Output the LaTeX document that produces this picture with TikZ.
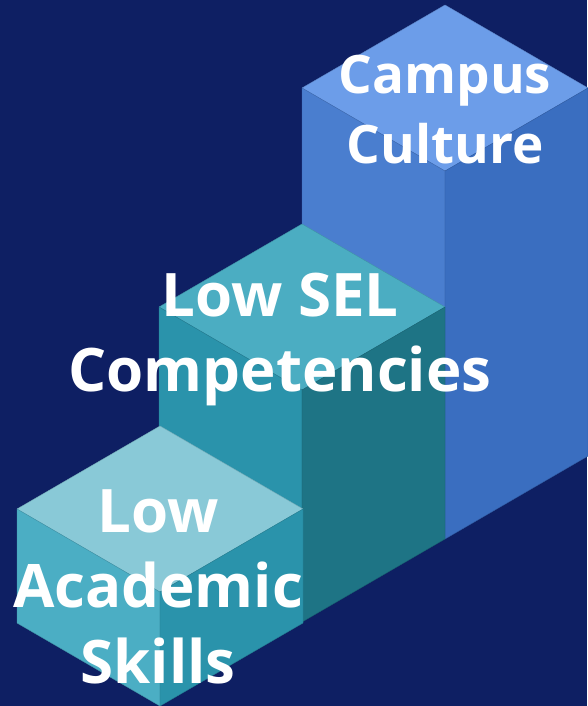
\documentclass[tikz,border=0pt]{standalone}
\usepackage{fontspec}
\setmainfont{Open Sans}
\definecolor{bg}{HTML}{0E1F63}
\definecolor{btop}{HTML}{6C9DE9}
\definecolor{bleft}{HTML}{4A7ECF}
\definecolor{bright}{HTML}{3A6EC0}
\definecolor{mtop}{HTML}{4BADC2}
\definecolor{mleft}{HTML}{2A93AB}
\definecolor{mright}{HTML}{1E7485}
\definecolor{ftop}{HTML}{89C9D7}
\definecolor{fleft}{HTML}{4BAEC4}
\definecolor{fright}{HTML}{2A93AB}
\tikzset{
  face/.style={fill=#1, draw=#1!85!black, line width=0.4pt, line join=round},
  lbl/.style={text=white, align=center, inner sep=0pt, anchor=base, font=\bfseries}
}
\begin{document}
\begin{tikzpicture}[x=1pt,y=-1pt]
\fill[bg] (0,0) rectangle (587,706);
\useasboundingbox (0,0) rectangle (587,706);
% back box
\coordinate (bT) at (445,5);
\coordinate (bL) at (302,88);
\coordinate (bR) at (588,88);
\coordinate (bF) at (445,171);
\coordinate (bFd) at (445,539);
\coordinate (bRd) at (588,456);
\coordinate (bLd) at (302,456);
\draw[face=btop] (bT) -- (bR) -- (bF) -- (bL) -- cycle;
\draw[face=bleft] (bL) -- (bF) -- (bFd) -- (bLd) -- cycle;
\draw[face=bright] (bF) -- (bR) -- (bRd) -- (bFd) -- cycle;
% middle box
\coordinate (mT) at (302,224);
\coordinate (mL) at (159,307);
\coordinate (mR) at (445,307);
\coordinate (mF) at (302,390);
\coordinate (mFd) at (302,622);
\coordinate (mRd) at (445,539);
\coordinate (mLd) at (159,539);
\draw[face=mtop] (mT) -- (mR) -- (mF) -- (mL) -- cycle;
\draw[face=mleft] (mL) -- (mF) -- (mFd) -- (mLd) -- cycle;
\draw[face=mright] (mF) -- (mR) -- (mRd) -- (mFd) -- cycle;
% front box
\coordinate (fT) at (160,426);
\coordinate (fL) at (17,509);
\coordinate (fR) at (303,509);
\coordinate (fF) at (160,592);
\coordinate (fFd) at (160,706);
\coordinate (fRd) at (303,623);
\coordinate (fLd) at (17,623);
\draw[face=ftop] (fT) -- (fR) -- (fF) -- (fL) -- cycle;
\draw[face=fleft] (fL) -- (fF) -- (fFd) -- (fLd) -- cycle;
\draw[face=fright] (fF) -- (fR) -- (fRd) -- (fFd) -- cycle;
% labels (base anchor = last line's baseline)
\node[lbl, font=\bfseries\fontsize{53}{70}\selectfont] (campus) at (445,163) {Campus\\Culture};
\node[lbl, font=\bfseries\fontsize{60}{74.5}\selectfont] (sel) at (280,391) {Low SEL\\Competencies};
\node[lbl, font=\bfseries\fontsize{60}{75.5}\selectfont] (acad) at (158,683) {Low\\Academic\\Skills};
\end{tikzpicture}
\end{document}
